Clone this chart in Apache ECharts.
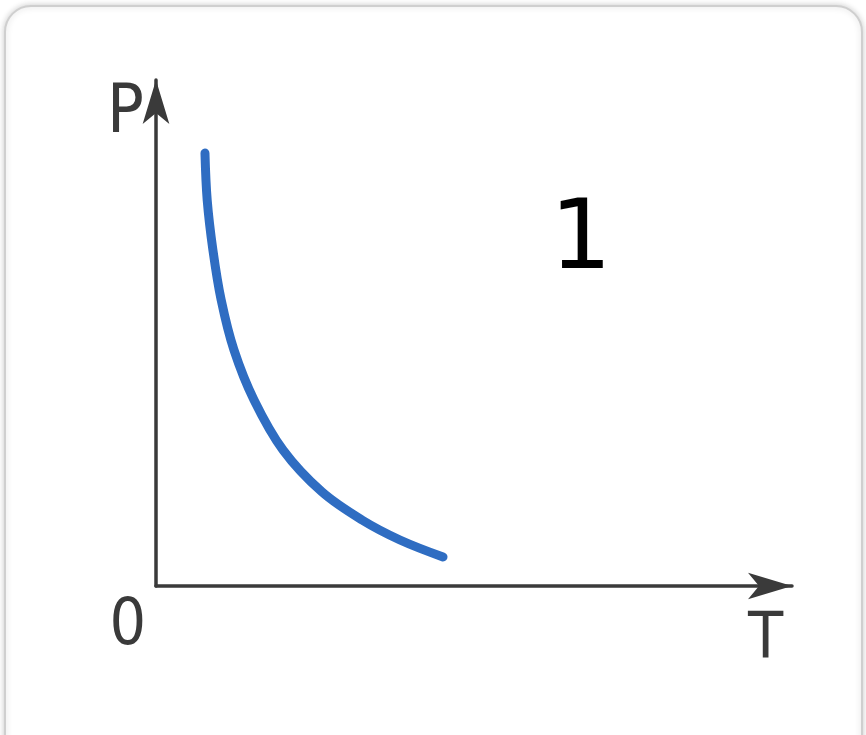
<!DOCTYPE html>
<html>
<head>
<meta charset="utf-8">
<style>
  html, body { margin: 0; padding: 0; background: #ffffff; }
  #chart { width: 866px; height: 735px; }
</style>
<script src="https://cdn.jsdelivr.net/npm/echarts@6/dist/echarts.min.js"></script>
</head>
<body>
<div id="chart"></div>
<script>
// P(T) curve: temperature vs pressure (arbitrary units)
const temperature = [7.70, 8.05, 8.95, 10.25, 12.26, 15.41, 19.97, 26.10, 32.39, 38.36, 45.13];
const pressure    = [85.57, 76.28, 66.40, 56.52, 46.64, 36.76, 26.88, 18.58, 13.04, 9.09, 5.73];
const axisNames = { x: 'T', y: 'P' };
const originLabel = '0';
const curveLabel = '1';

const chart = echarts.init(document.getElementById('chart'), null, { renderer: 'canvas' });

const axisLineStyle = { color: '#3a3a3a', width: 3.5 };
const labelFont = 'DejaVu Sans Condensed, Liberation Sans';

chart.setOption({
  backgroundColor: '#ffffff',
  animation: false,
  graphic: [
    {
      type: 'rect',
      z: -10,
      shape: { x: 5, y: 6, width: 857, height: 780, r: 26 },
      style: {
        fill: '#ffffff',
        stroke: '#cfcfcf',
        lineWidth: 2,
        shadowBlur: 6,
        shadowColor: 'rgba(0,0,0,0.18)'
      }
    },
    {
      type: 'text',
      left: 550,
      top: 194,
      style: {
        text: curveLabel,
        font: '97px "DejaVu Sans"',
        fill: '#000000'
      }
    }
  ],
  grid: { left: 156, right: 74, top: 80, bottom: 149 },
  xAxis: {
    type: 'value',
    min: 0,
    max: 100,
    interval: 100,
    name: axisNames.x,
    nameLocation: 'end',
    nameGap: -44,
    nameTextStyle: {
      color: '#3a3a3a',
      fontFamily: labelFont,
      fontSize: 64,
      verticalAlign: 'top',
      align: 'left',
      padding: [23, 0, 0, 0]
    },
    axisLine: {
      show: true,
      lineStyle: axisLineStyle,
      symbol: ['none', 'arrow'],
      symbolSize: [20, 44]
    },
    axisTick: { show: false },
    splitLine: { show: false },
    axisLabel: {
      show: true,
      margin: 9,
      align: 'right',
      color: '#3a3a3a',
      fontFamily: labelFont,
      fontSize: 64,
      padding: [0, 10, 0, 0],
      formatter: function (v) { return v === 0 ? originLabel : ''; }
    }
  },
  yAxis: {
    type: 'value',
    min: 0,
    max: 100,
    interval: 100,
    name: axisNames.y,
    nameLocation: 'end',
    nameGap: 0,
    nameTextStyle: {
      color: '#3a3a3a',
      fontFamily: labelFont,
      fontSize: 68,
      align: 'right',
      verticalAlign: 'top',
      padding: [0, 12, 0, 0]
    },
    axisLine: {
      show: true,
      lineStyle: axisLineStyle,
      symbol: ['none', 'arrow'],
      symbolSize: [20, 44]
    },
    axisTick: { show: false },
    splitLine: { show: false },
    axisLabel: { show: false }
  },
  series: [
    {
      type: 'line',
      data: temperature.map((t, i) => [t, pressure[i]]),
      smooth: 0.35,
      showSymbol: false,
      lineStyle: { color: '#2f6dc2', width: 9, cap: 'round' }
    }
  ]
});
</script>
</body>
</html>
